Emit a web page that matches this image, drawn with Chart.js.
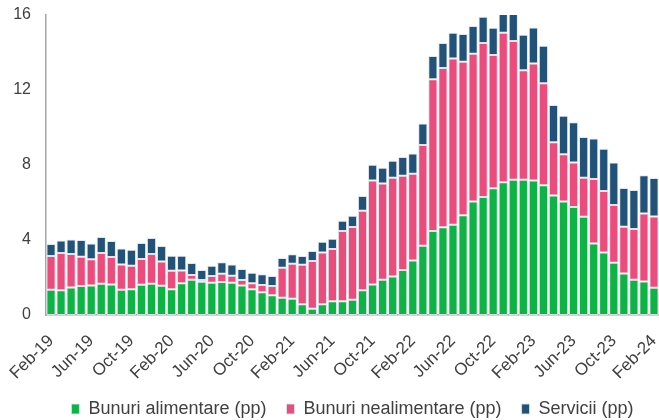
<!DOCTYPE html>
<html>
<head>
<meta charset="utf-8">
<script src="https://cdn.jsdelivr.net/npm/chart.js@4/dist/chart.umd.min.js"></script>
<style>
  html, body { margin: 0; padding: 0; background: #fff; }
  #wrap { width: 659px; height: 420px; }
</style>
</head>
<body>
<div id="wrap"><canvas id="chart"></canvas></div>
<script>
// luni (Feb-19 .. Feb-24)
const months = [
  "Feb-19","Mar-19","Apr-19","May-19","Jun-19","Jul-19","Aug-19","Sep-19","Oct-19","Nov-19","Dec-19",
  "Jan-20","Feb-20","Mar-20","Apr-20","May-20","Jun-20","Jul-20","Aug-20","Sep-20","Oct-20","Nov-20","Dec-20",
  "Jan-21","Feb-21","Mar-21","Apr-21","May-21","Jun-21","Jul-21","Aug-21","Sep-21","Oct-21","Nov-21","Dec-21",
  "Jan-22","Feb-22","Mar-22","Apr-22","May-22","Jun-22","Jul-22","Aug-22","Sep-22","Oct-22","Nov-22","Dec-22",
  "Jan-23","Feb-23","Mar-23","Apr-23","May-23","Jun-23","Jul-23","Aug-23","Sep-23","Oct-23","Nov-23","Dec-23",
  "Jan-24","Feb-24"
];

// contributii (pp)
const alimentare = [
  1.35,1.32,1.47,1.55,1.58,1.67,1.63,1.35,1.37,1.62,1.67,
  1.56,1.37,1.69,1.88,1.78,1.72,1.76,1.72,1.58,1.37,1.21,1.05,
  0.92,0.87,0.57,0.34,0.57,0.73,0.73,0.82,1.32,1.63,1.88,2.06,
  2.40,2.91,3.70,4.48,4.68,4.82,5.32,6.06,6.29,6.76,7.08,7.22,
  7.22,7.17,6.92,6.38,6.05,5.76,5.24,3.82,3.34,2.79,2.22,1.88,
  1.79,1.46
];
const nealimentare = [
  1.80,1.99,1.78,1.56,1.39,1.64,1.46,1.35,1.26,1.37,1.58,
  1.30,0.99,0.69,0.25,0.09,0.36,0.44,0.38,0.29,0.32,0.39,0.50,
  1.60,1.87,2.11,2.54,2.77,2.79,3.75,3.87,4.24,5.55,5.14,5.26,
  5.03,4.63,5.37,8.09,8.49,8.86,8.19,7.88,8.22,7.11,7.98,7.39,
  5.83,6.25,5.44,2.83,2.52,2.37,2.08,3.43,3.27,3.08,2.49,2.71,
  3.63,3.80
];
const servicii = [
  0.64,0.67,0.78,0.89,0.85,0.85,0.86,0.85,0.85,0.85,0.86,
  0.82,0.80,0.78,0.64,0.53,0.55,0.61,0.60,0.58,0.57,0.57,0.53,
  0.52,0.50,0.47,0.53,0.57,0.55,0.55,0.61,0.79,0.84,0.84,0.91,
  1.00,1.07,1.15,1.24,1.34,1.38,1.48,1.47,1.40,1.45,1.20,1.60,
  1.90,1.92,2.00,1.99,2.06,2.15,2.17,2.17,2.26,2.26,2.06,2.08,
  2.03,2.05
];
const yTicks = [0, 4, 8, 12, 16];

const fontFam = "'Liberation Sans', Arial, sans-serif";
const textColor = "#404040";
const axisColor = "#a6a6a6";

function barSet(label, data, color) {
  return {
    label: label,
    data: data,
    backgroundColor: color,
    borderColor: "rgba(220,226,234,0.9)",
    borderWidth: 1,
    borderSkipped: false,
    barPercentage: 0.92,
    categoryPercentage: 1.0
  };
}

new Chart(document.getElementById("chart"), {
  type: "bar",
  data: {
    labels: months,
    datasets: [
      barSet("Bunuri alimentare (pp)", alimentare, "#0db344"),
      barSet("Bunuri nealimentare (pp)", nealimentare, "#ec4c7c"),
      barSet("Servicii (pp)", servicii, "#235279")
    ]
  },
  options: {
    responsive: true,
    maintainAspectRatio: false,
    animation: false,
    layout: { padding: { top: 15, right: 0, left: 0, bottom: -8 } },
    plugins: {
      tooltip: { enabled: false },
      legend: {
        position: "bottom",
        fullSize: false, // legenda doar pe latimea zonei graficului
        labels: {
          boxWidth: 8,
          boxHeight: 10,
          padding: 20,
          color: textColor,
          font: { family: fontFam, size: 18 }
        }
      }
    },
    scales: {
      x: {
        stacked: true,
        grid: { display: false, drawTicks: false },
        border: { display: true, color: axisColor, width: 1.5 },
        ticks: {
          autoSkip: false,
          maxRotation: 45,
          minRotation: 45,
          padding: 16,
          color: textColor,
          font: { family: fontFam, size: 17 },
          callback: function (value, index) {
            return index % 4 === 0 ? months[index] : "";
          }
        },
        afterFit: function (scale) {
          scale.height = 65;
          scale.paddingLeft = 0;
          scale.paddingRight = 0;
        }
      },
      y: {
        stacked: true,
        min: 0,
        max: 16,
        afterBuildTicks: function (scale) {
          scale.ticks = yTicks.map(v => ({ value: v }));
        },
        grid: { display: false, drawTicks: false },
        border: { display: true, color: axisColor, width: 1.5 },
        ticks: {
          padding: 15,
          color: textColor,
          font: { family: fontFam, size: 16 }
        },
        afterFit: function (scale) {
          scale.width = 46;
          scale.paddingTop = 0;
          scale.paddingBottom = 0;
        }
      }
    }
  }
});
</script>
</body>
</html>
